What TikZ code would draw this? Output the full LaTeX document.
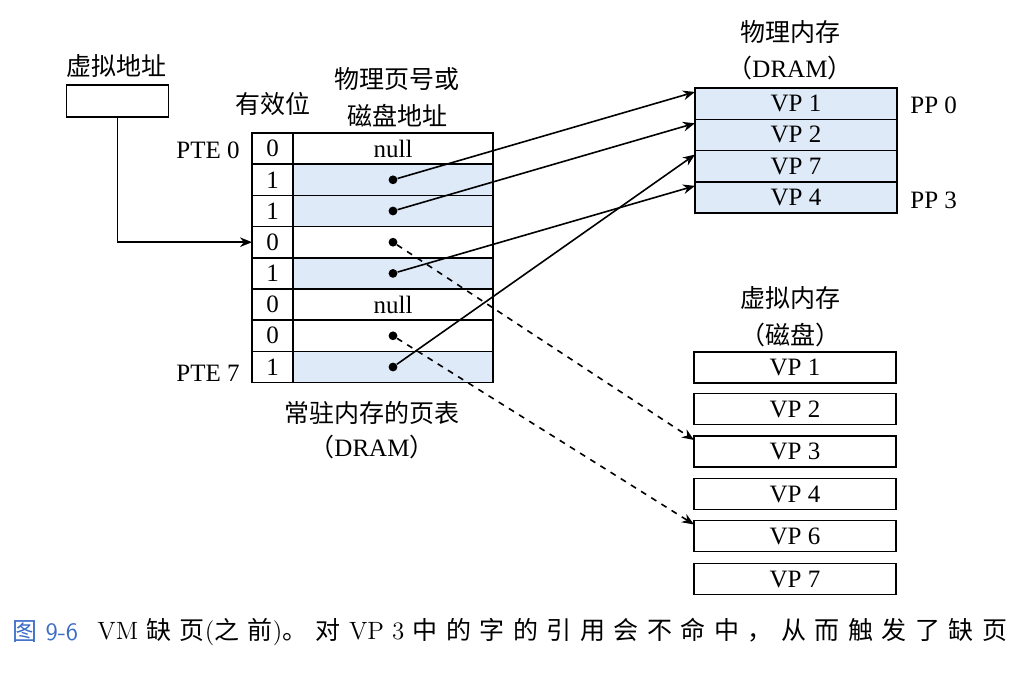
\documentclass[tikz,border=0pt]{standalone}
\usepackage{fontspec}
\newfontfamily\tms{Liberation Serif}
\newfontfamily\cjk{Noto Sans CJK SC}
\newfontfamily\cjkcap[LetterSpace=34]{Noto Sans CJK SC}
\usetikzlibrary{arrows.meta}
\definecolor{cellblue}{RGB}{222,234,248}
\definecolor{capblue}{RGB}{60,110,200}

\begin{document}
\begin{tikzpicture}[x=0.5pt, y=-0.5pt, >={Stealth[length=6pt,width=4.8pt]},
  lbl/.style={inner sep=0pt, align=center, font=\cjk\fontsize{12.5}{18.5}\selectfont},
  latin/.style={inner sep=0pt, font=\tms\fontsize{12.5}{15}\selectfont},
  cellbox/.style={draw, line width=0.75pt, inner sep=0pt, outer sep=0pt,
    minimum height=15.6pt, font=\tms\fontsize{12.5}{15}\selectfont},
  validcell/.style={cellbox, minimum width=20.5pt},
  addr0/.style={cellbox, minimum width=100pt},
  addr1/.style={addr0, fill=cellblue},
  pmcell/.style={cellbox, minimum width=101pt, minimum height=15.65pt, fill=cellblue},
  diskcell/.style={cellbox, minimum width=101pt, minimum height=15.5pt},
  dot/.style={circle, fill, inner sep=0pt, minimum size=4.4pt},
  link/.style={->, line width=0.8pt}]
  \useasboundingbox[fill=white] (0,0) rectangle (1024,686);

  % virtual address
  \node[lbl] (valbl) at (117,66) {虚拟地址};
  \node[draw, line width=0.75pt, minimum width=51pt, minimum height=16pt, inner sep=0pt] (va) at (117.5,101) {};

  % page table
  \node[lbl] (validlbl) at (273,104) {有效位};
  \node[lbl] (addrlbl) at (397,97) {物理页号或\\磁盘地址};
  \foreach \i/\b in {0/0,1/1,2/1,3/0,4/1,5/0,6/0,7/1} {
    \pgfmathsetmacro\yy{148.6+31.2*\i}
    \node[validcell] (v\i) at (272.5,\yy) {\b};
    \node[addr\b] (a\i) at (393,\yy) {};
  }
  \node[latin] (null0) at (a0) {null};
  \node[latin] (null5) at (a5) {null};
  \foreach \i in {1,2,3,4,6,7}
    \node[dot] (d\i) at (a\i.center) {};
  \node[latin, anchor=east] (pte0) at (240,150) {PTE 0};
  \node[latin, anchor=east] (pte7) at (240,373) {PTE 7};
  \node[lbl] (ptlbl) at (372,413) {常驻内存的页表};
  \node[latin] (ptdram) at (372,447) {{\cjk （}DRAM{\cjk ）}};

  % physical memory
  \node[lbl] (pmlbl) at (790,32) {物理内存};
  \node[latin] (pmdram) at (790,68) {{\cjk （}DRAM{\cjk ）}};
  \foreach \vp [count=\k from 0] in {1,2,7,4}
    \node[pmcell] (pm\k) at (796,103.6+31.3*\k) {VP \vp};
  \node[latin, anchor=west] (pp0) at (910,105) {PP 0};
  \node[latin, anchor=west] (pp3) at (910,200) {PP 3};

  % virtual memory (disk)
  \node[lbl] (vmlbl) at (790,298) {虚拟内存};
  \node[lbl] (vmdisk) at (790,335) {（磁盘）};
  \foreach \vp/\yy in {1/367.5,2/409,3/451.5,4/494,6/536,7/579}
    \node[diskcell] (dk\vp) at (795,\yy) {VP \vp};

  % connectors
  \draw[link] (va.south) |- (v3.west);
  \draw[link] (d1) -- ([yshift=-2pt]pm0.north west);
  \draw[link] (d2) -- ([yshift=-2pt]pm1.north west);
  \draw[link] (d7) -- ([yshift=-2pt]pm2.north west);
  \draw[link] (d4) -- ([yshift=-2pt]pm3.north west);
  \draw[link, dashed] (d3) -- ([yshift=-2pt]dk3.north west);
  \draw[link, dashed] (d6) -- ([yshift=-2pt]dk6.north west);

  % caption
  \node[anchor=west, inner sep=0pt, text=capblue, font=\fontsize{12.5}{15}\selectfont] (fignum) at (12,632) {{\cjk 图} \sffamily 9-6};
  \node[anchor=west, inner sep=0pt, font=\fontsize{12.5}{15}\selectfont] (caption) at (97,632)
    {VM {\cjkcap 缺页}({\cjkcap 之前}){\cjkcap 。对} VP 3 {\cjkcap 中的字的引用会不命中，从而触发了缺页}};
\end{tikzpicture}
\end{document}
